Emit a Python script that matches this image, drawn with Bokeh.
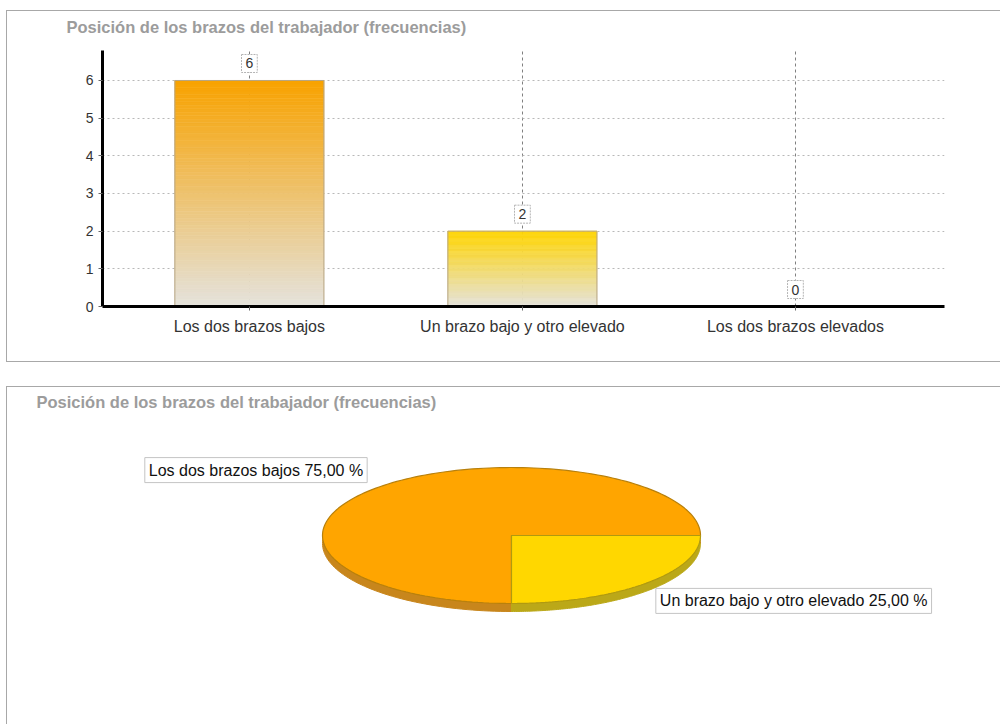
import numpy as np
from bokeh.plotting import figure
from bokeh.layouts import column
from bokeh.models import Range1d, FixedTicker, Label, Title
from bokeh.embed import file_html
from bokeh.resources import INLINE

# ---------------- data ----------------
TITLE = "Posición de los brazos del trabajador (frecuencias)"
categories = ["Los dos brazos bajos", "Un brazo bajo y otro elevado", "Los dos brazos elevados"]
frequencies = [6, 2, 0]
y_ticks = [0, 1, 2, 3, 4, 5, 6]

# ---------------- styles ----------------
FONT = "Liberation Sans"
bar_top_colors = ["#F8A300", "#FFD400", "#8FDCDC"]
bar_base_color = "#E4E2DD"
pie_colors = ["#FFA500", "#FFD700", "#8FDCDC"]
pie_side_colors = ["#C8861C", "#BBA818", "#5FA8A8"]
pie_edge_colors = ["#B8800C", "#B09A10", "#5FA8A8"]
BORDER = "1px solid #a8a8a8"
MB_L, MB_R = 95, 57          # frame margins shared by both panels


def hex_rgb(h):
    h = h.lstrip("#")
    return tuple(int(h[i:i + 2], 16) for i in (0, 2, 4))


def rgb_hex(c):
    return "#%02x%02x%02x" % tuple(int(round(v)) for v in c)


def make_title(offset):
    return Title(text=TITLE, align="left", offset=offset, standoff=0,
                 text_font=FONT, text_font_size="16.5px", text_font_style="bold",
                 text_color="#9c9c9c")


# ---------------- bar chart ----------------
p1 = figure(width=994, height=352,
            x_range=Range1d(-0.538, 2.546), y_range=Range1d(0, 6.796),
            output_backend="svg", toolbar_location=None,
            min_border_left=MB_L, min_border_right=MB_R,
            min_border_top=39, min_border_bottom=57)
p1.title = make_title(-36)
# small spacer between the title and the frame
p1.add_layout(Title(text=" ", text_font_size="1px", standoff=12), "above")
p1.outline_line_color = None
p1.background_fill_color = "white"
p1.border_fill_color = "white"

idx = list(range(len(categories)))
p1.xaxis.ticker = FixedTicker(ticks=idx)
p1.xaxis.major_label_overrides = {i: c for i, c in zip(idx, categories)}
p1.yaxis.ticker = FixedTicker(ticks=y_ticks)
for ax in (p1.xaxis, p1.yaxis):
    ax.axis_line_width = 3
    ax.axis_line_color = "black"
    ax.major_tick_line_color = "#666666"
    ax.major_tick_out = 4
    ax.major_tick_in = 0
    ax.minor_tick_line_color = None
    ax.major_label_text_font = FONT
    ax.major_label_text_color = "#333333"
p1.xaxis.major_label_text_font_size = "16px"
p1.xaxis.major_label_standoff = 7
p1.yaxis.major_label_text_font_size = "14px"
p1.yaxis.major_label_standoff = 5

p1.xgrid.ticker = FixedTicker(ticks=idx)
p1.xgrid.grid_line_color = "#808080"
p1.xgrid.grid_line_dash = "3 3"
p1.ygrid.grid_line_color = "#b8b8b8"
p1.ygrid.grid_line_dash = "2 3"

# gradient bars built as thin strips from the data values
BAR_W = 0.546
N = 64
L, R, B, T, C = [], [], [], [], []
base = hex_rgb(bar_base_color)
for i, v, col in zip(idx, frequencies, bar_top_colors):
    top = hex_rgb(col)
    for k in range(N):
        t = (k + 0.5) / N
        c = tuple(base[j] + (top[j] - base[j]) * t for j in range(3))
        L.append(i - BAR_W / 2)
        R.append(i + BAR_W / 2)
        B.append(v * k / N)
        T.append(v * (k + 1) / N)
        C.append(rgb_hex(c))
p1.quad(left=L, right=R, bottom=B, top=T, fill_color=C, line_color=C, line_width=0.6)
p1.quad(left=[i - BAR_W / 2 for i in idx], right=[i + BAR_W / 2 for i in idx],
        bottom=[0] * len(idx), top=frequencies,
        fill_color=None, line_color="#b8a684", line_width=1)

for i, v in zip(idx, frequencies):
    p1.add_layout(Label(x=i, y=v, text=str(v), y_offset=17,
                        text_align="center", text_baseline="middle",
                        text_font=FONT, text_font_size="14px", text_color="#333333",
                        background_fill_color="white", border_line_color="#b4b4b4",
                        border_line_dash="2 1", padding=4))

# ---------------- pie chart ----------------
RX_PX, RY_PX = 189.0, 68.0
W2, H2, TOP2 = 994, 338, 23
FW = W2 - MB_L - MB_R
FH = H2 - TOP2
CX_PX = 504.0 - MB_L          # pie centre, frame pixels from left
CY_PX = 148.0 - TOP2          # pie centre, frame pixels from top
p2 = figure(width=W2, height=H2,
            x_range=Range1d(-CX_PX / RX_PX, (FW - CX_PX) / RX_PX),
            y_range=Range1d(-(FH - CY_PX) / RY_PX, CY_PX / RY_PX),
            output_backend="svg", toolbar_location=None,
            x_axis_location=None, y_axis_location=None,
            min_border_left=MB_L, min_border_right=MB_R,
            min_border_top=TOP2, min_border_bottom=0)
p2.title = make_title(29 - MB_L)
p2.grid.visible = False
p2.outline_line_color = None

total = float(sum(frequencies))
DEPTH = 8.0 / RY_PX
angle = 0.0
slices = []
for name, v, col, side, edge in zip(categories, frequencies, pie_colors, pie_side_colors, pie_edge_colors):
    if v <= 0:
        continue
    a0 = angle
    a1 = angle + 2 * np.pi * v / total
    angle = a1
    th = np.linspace(a0, a1, 160)
    xs = [0.0] + list(np.cos(th))
    ys = [0.0] + list(np.sin(th))
    slices.append((name, v, col, side, edge, xs, ys, (a0 + a1) / 2))

# side (depth) first
p2.patches(xs=[s[5] for s in slices], ys=[[y - DEPTH for y in s[6]] for s in slices],
           fill_color=[s[3] for s in slices], line_color=[s[3] for s in slices], line_width=1)
# top faces
p2.patches(xs=[s[5] for s in slices], ys=[s[6] for s in slices],
           fill_color=[s[2] for s in slices], line_color=[s[4] for s in slices], line_width=1.2)

LABEL_RX, LABEL_RY = 1.08, 1.36
for name, v, col, side, edge, xs, ys, mid in slices:
    pct = ("%.2f" % (100.0 * v / total)).replace(".", ",")
    txt = "%s %s %%" % (name, pct)
    p2.add_layout(Label(x=LABEL_RX * np.cos(mid), y=LABEL_RY * np.sin(mid), text=txt,
                        text_align="right" if np.cos(mid) < 0 else "left",
                        text_baseline="middle", text_font=FONT, text_font_size="16px",
                        text_color="#111111", background_fill_color="white",
                        border_line_color="#c4c4c4", padding=4))

p1.styles = {"margin-left": "6px", "margin-top": "10px",
             "border-left": BORDER, "border-top": BORDER, "border-bottom": BORDER}
p2.styles = {"margin-left": "6px", "margin-top": "24px",
             "border-left": BORDER, "border-top": BORDER}

layout = column(p1, p2)
open("out.html", "w").write(file_html(layout, INLINE))
